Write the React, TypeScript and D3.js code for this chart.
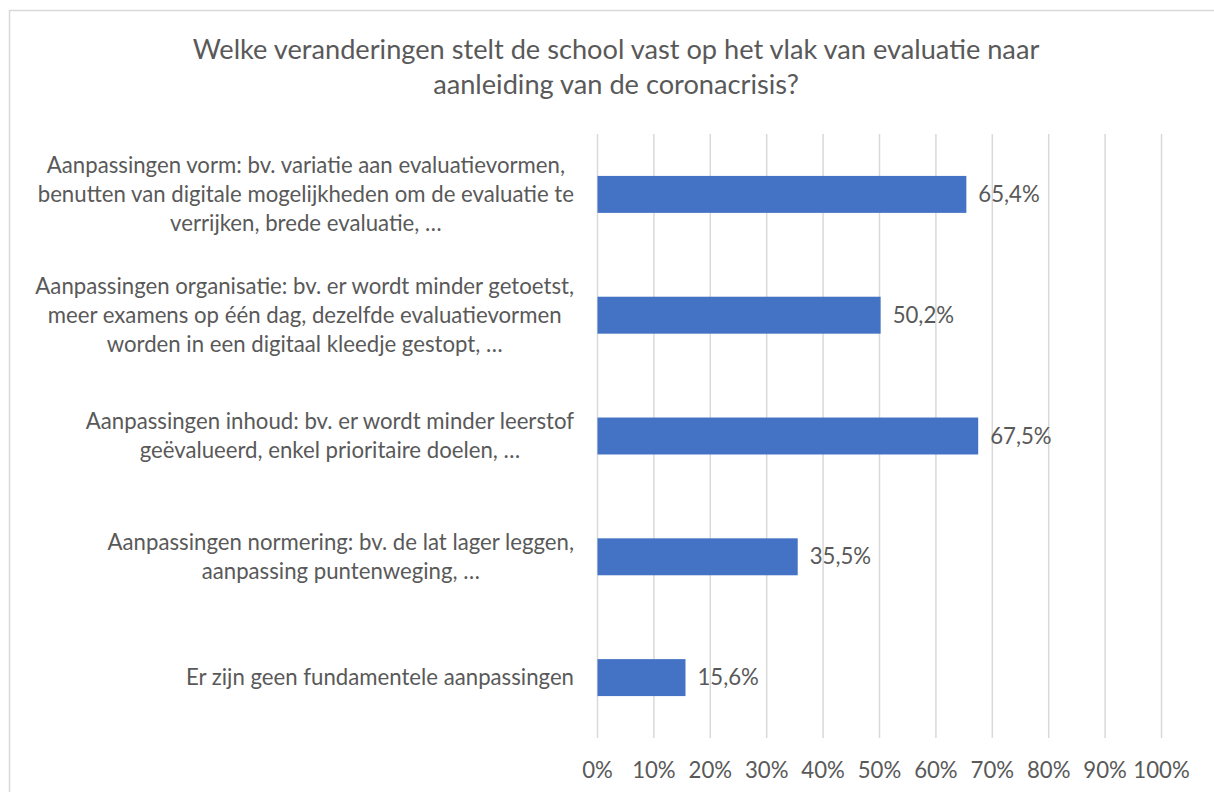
import React, { useEffect, useRef } from "react";
import * as d3 from "d3";

const titleLines = [
  "Welke veranderingen stelt de school vast op het vlak van evaluatie naar",
  "aanleiding van de coronacrisis?",
];

const categories = [
  [
    "Aanpassingen vorm: bv. variatie aan evaluatievormen,",
    "benutten van digitale mogelijkheden om de evaluatie te",
    "verrijken, brede evaluatie, …",
  ],
  [
    "Aanpassingen organisatie: bv. er wordt minder getoetst,",
    "meer examens op één dag, dezelfde evaluatievormen",
    "worden in een digitaal kleedje gestopt, …",
  ],
  [
    "Aanpassingen inhoud: bv. er wordt minder leerstof",
    "geëvalueerd, enkel prioritaire doelen, …",
  ],
  [
    "Aanpassingen normering: bv. de lat lager leggen,",
    "aanpassing puntenweging, …",
  ],
  ["Er zijn geen fundamentele aanpassingen"],
];

const values = [65.4, 50.2, 67.5, 35.5, 15.6];

const tickValues = [0, 10, 20, 30, 40, 50, 60, 70, 80, 90, 100];

const W = 1214;
const H = 792;
const FONT = "Lato, 'Open Sans', 'DejaVu Sans', sans-serif";
const TEXT = "#595959";

export default function App() {
  const ref = useRef<SVGSVGElement | null>(null);

  useEffect(() => {
    const svg = d3.select(ref.current);
    svg.selectAll("*").remove();

    const plot = { left: 597.5, right: 1161.5, top: 134, bottom: 738 };

    const x = d3.scaleLinear().domain([0, 100]).range([plot.left, plot.right]);
    const y = d3
      .scaleBand<number>()
      .domain(d3.range(categories.length))
      .range([plot.top, plot.bottom])
      .paddingInner(0.694)
      .paddingOuter(0.347);

    svg
      .append("rect")
      .attr("width", W)
      .attr("height", H)
      .attr("fill", "#ffffff");

    // chart border
    svg
      .append("rect")
      .attr("x", 9.5)
      .attr("y", 10.5)
      .attr("width", 1230)
      .attr("height", 800)
      .attr("fill", "none")
      .attr("stroke", "#d9d9d9")
      .attr("stroke-width", 1.5);

    // title
    const title = svg
      .append("text")
      .attr("text-anchor", "middle")
      .attr("font-family", FONT)
      .attr("font-size", 27.2)
      .attr("fill", TEXT);
    titleLines.forEach((t, i) => {
      title
        .append("tspan")
        .attr("x", 616)
        .attr("y", 59 + i * 35)
        .text(t);
    });

    // gridlines
    svg
      .append("g")
      .selectAll("line")
      .data(tickValues)
      .join("line")
      .attr("x1", (d) => x(d))
      .attr("x2", (d) => x(d))
      .attr("y1", plot.top)
      .attr("y2", plot.bottom)
      .attr("stroke", "#d9d9d9")
      .attr("stroke-width", 1.5);

    // tick labels
    svg
      .append("g")
      .selectAll("text")
      .data(tickValues)
      .join("text")
      .attr("x", (d) => x(d))
      .attr("y", 778)
      .attr("text-anchor", "middle")
      .attr("font-family", FONT)
      .attr("font-size", 22.2)
      .attr("fill", TEXT)
      .text((d) => `${d}%`);

    // bars
    svg
      .append("g")
      .selectAll("rect")
      .data(values)
      .join("rect")
      .attr("x", x(0))
      .attr("y", (_, i) => y(i)!)
      .attr("width", (d) => x(d) - x(0))
      .attr("height", y.bandwidth())
      .attr("fill", "#4472C4");

    // value labels
    svg
      .append("g")
      .selectAll("text")
      .data(values)
      .join("text")
      .attr("x", (d) => x(d) + 12)
      .attr("y", (_, i) => y(i)! + y.bandwidth() / 2 + 7.5)
      .attr("font-family", FONT)
      .attr("font-size", 22.2)
      .attr("fill", TEXT)
      .text((d) => `${d.toFixed(1).replace(".", ",")}%`);

    // category labels
    const lineH = 29;
    const labelRight = 574;
    categories.forEach((lines, i) => {
      const cy = y(i)! + y.bandwidth() / 2;
      const g = svg.append("g");
      const texts = lines.map((t, j) =>
        g
          .append("text")
          .attr("y", cy + (j - (lines.length - 1) / 2) * lineH + 7.5)
          .attr("text-anchor", "middle")
          .attr("font-family", FONT)
          .attr("font-size", 22.2)
          .attr("fill", TEXT)
          .text(t)
      );
      const maxW = d3.max(texts, (t) => (t.node() as SVGTextElement).getComputedTextLength()) || 0;
      texts.forEach((t) => t.attr("x", labelRight - maxW / 2));
    });
  }, []);

  return (
    <svg
      ref={ref}
      width={W}
      height={H}
      style={{ position: "absolute", left: 0, top: 0, display: "block" }}
    />
  );
}
